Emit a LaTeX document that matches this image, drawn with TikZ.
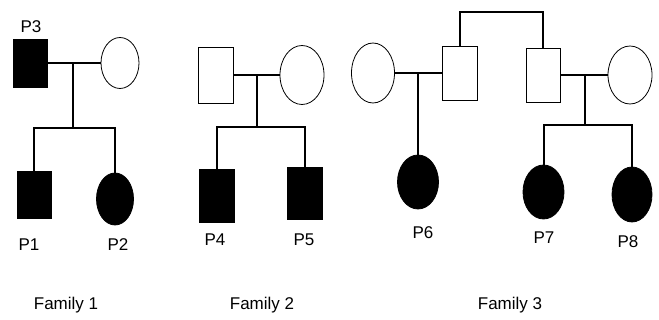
\documentclass[tikz,border=0pt]{standalone}
\usepackage{fontspec}
\setmainfont{Liberation Sans}
\usetikzlibrary{shapes.geometric}
\begin{document}
\begin{tikzpicture}[x=1pt,y=-1pt,
  male/.style={draw=black,line width=0.8pt,rectangle,inner sep=0pt},
  female/.style={draw=black,line width=0.8pt,ellipse,inner sep=0pt},
  aff/.style={fill=black},
  unaff/.style={fill=white},
  link/.style={line width=2pt,line join=miter},
  plabel/.style={font=\fontsize{17}{19}\selectfont,inner sep=0pt},
  flabel/.style={font=\fontsize{17}{19}\selectfont,inner sep=0pt}]
\useasboundingbox[fill=white] (0,0) rectangle (659,320);

% Family 1
\node[male,aff,minimum width=34pt,minimum height=48pt] (p3) at (30,63) {};
\node[female,unaff,minimum width=38pt,minimum height=51pt] (m1) at (120,63) {};
\node[male,aff,minimum width=34pt,minimum height=47pt] (p1) at (34,194.5) {};
\node[female,aff,minimum width=37pt,minimum height=52pt] (p2) at (115,199) {};
\coordinate (c1) at (73,63);
\coordinate (s1) at (73,128);
\draw[link] (p3) -- (m1);
\draw[link] (c1) -- (s1);
\draw[link] (p1.north) |- (s1) -| (p2.north);
\node[plabel] (l3) at (31,27) {P3};
\node[plabel] (l1) at (29,245) {P1};
\node[plabel] (l2) at (118,245) {P2};

% Family 2
\node[male,unaff,minimum width=35pt,minimum height=56pt] (f2) at (215.5,75) {};
\node[female,unaff,minimum width=44pt,minimum height=59pt] (m2) at (302,75) {};
\node[male,aff,minimum width=35pt,minimum height=53pt] (p4) at (216.5,195.5) {};
\node[male,aff,minimum width=35pt,minimum height=52pt] (p5) at (304.5,193) {};
\coordinate (c2) at (257,75);
\coordinate (s2) at (257,127);
\draw[link] (f2) -- (m2);
\draw[link] (c2) -- (s2);
\draw[link] (p4.north) |- (s2) -| (p5.north);
\node[plabel] (l4) at (215,240) {P4};
\node[plabel] (l5) at (304,240) {P5};

% Family 3
\node[female,unaff,minimum width=43pt,minimum height=60pt] (m3) at (373,73) {};
\node[male,unaff,minimum width=35pt,minimum height=54pt] (f3a) at (459.5,73) {};
\node[male,unaff,minimum width=34pt,minimum height=54pt] (f3b) at (543,75) {};
\node[female,unaff,minimum width=44pt,minimum height=58pt] (m4) at (630,75) {};
\node[female,aff,minimum width=41pt,minimum height=54pt] (p6) at (418,182) {};
\node[female,aff,minimum width=41pt,minimum height=54pt] (p7) at (543.5,192) {};
\node[female,aff,minimum width=40pt,minimum height=55pt] (p8) at (632,194.5) {};
\coordinate (c3) at (418,73);
\coordinate (top) at (500,12);
\coordinate (c4) at (585,75);
\coordinate (s4) at (585,125);
\draw[link] (m3) -- (f3a);
\draw[link] (c3) -- (p6.north);
\draw[link] (f3a.north) |- (top) -| (f3b.north);
\draw[link] (f3b) -- (m4);
\draw[link] (c4) -- (s4);
\draw[link] (p7.north) |- (s4) -| (p8.north);
\node[plabel] (l6) at (423,233) {P6};
\node[plabel] (l7) at (544,238) {P7};
\node[plabel] (l8) at (628,242) {P8};

% Family labels
\node[flabel] (fa1) at (66,305) {Family 1};
\node[flabel] (fa2) at (262,305) {Family 2};
\node[flabel] (fa3) at (510,305) {Family 3};
\end{tikzpicture}
\end{document}
